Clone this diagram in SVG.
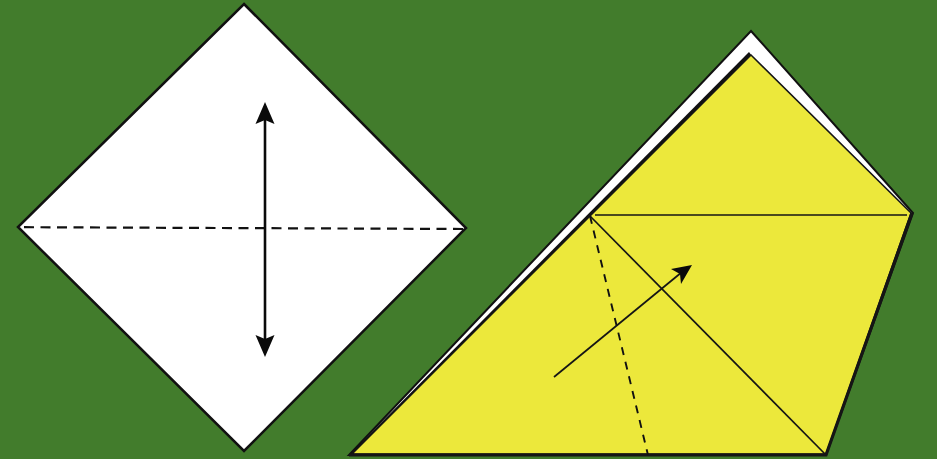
<svg xmlns="http://www.w3.org/2000/svg" width="937" height="459" viewBox="0 0 937 459">
<style>
.sheet{fill:#fff;stroke:#111;stroke-width:2.5;stroke-linejoin:miter}
.outer{fill:#fff;stroke:#111;stroke-width:2;stroke-linejoin:miter}
.fold{fill:#ece83b;stroke:#151515;stroke-width:1.5;stroke-linejoin:miter}
.line{fill:none;stroke:#151515;stroke-width:1.7}
.dash{fill:none;stroke:#111;stroke-width:1.9;stroke-dasharray:8 7}
.head{fill:#0a0a0a;stroke:none}
</style>
<rect width="937" height="459" fill="#427c2c"/>
<g id="white-square">
<polygon class="sheet" points="244,4 466,228 244,451 18,227"/>
</g>
<g id="yellow-fold">
<polygon class="outer" points="751,31 913,213 826,455 349,455"/>
<polygon points="349,455 749,52 752,56 355,453" fill="#111"/>
<polygon class="fold" points="751,55 911,213 826,454 352,454"/>
<path d="M349,455H826L912,213" fill="none" stroke="#151515" stroke-width="3.2"/>
</g>
<g id="connectors">
<path d="M24,227.2L466,229" class="dash" style="stroke-width:2.2;stroke-dasharray:10 6.5"/>
<path d="M265,120V340" fill="none" stroke="#0a0a0a" stroke-width="2.6"/>
<polygon class="head" points="265,102 274.500,124 265,120 255.500,124"/>
<polygon class="head" points="265,357 255.500,335 265,339 274.500,335"/>
<path d="M595,215H907" class="line"/>
<path d="M590,216L826,455" class="line"/>
<path d="M590,216L648,455" class="dash"/>
<path d="M554,377L682,272" class="line"/>
<polygon class="head" points="692,265 681,284 680,274 671,269"/>
</g>
</svg>
